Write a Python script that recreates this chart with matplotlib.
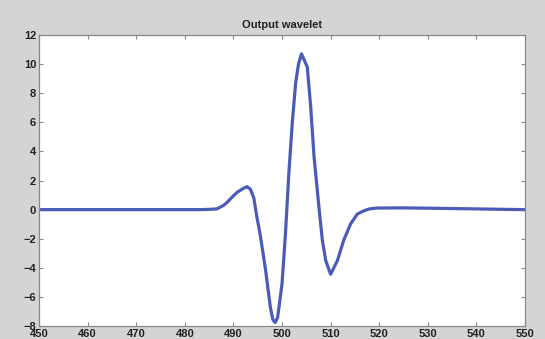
import matplotlib
matplotlib.use("Agg")
import matplotlib.pyplot as plt

# samples (time, amplitude)
time = [450, 483, 485, 486.6, 488, 488.7, 490, 490.8, 492, 492.8, 493.5,
        494.2, 494.8, 495.5, 496.6, 497.6, 498.1, 498.6, 499.1, 500.0, 500.7,
        501.4, 502.1, 502.8, 503.4, 504.0, 505.2, 505.9, 506.6, 507.6, 508.3,
        509.0, 510.0, 511.4, 512.7, 514.1, 515.5, 516.9, 518, 519.6, 525,
        530, 540, 550]
amplitude = [0, 0, 0.02, 0.05, 0.3, 0.5, 0.95, 1.2, 1.45, 1.58, 1.4,
             0.8, -0.45, -1.7, -4.1, -6.7, -7.54, -7.75, -7.4, -5.1, -1.7,
             2.46, 5.9, 8.7, 10.0, 10.7, 9.8, 7.06, 3.6, 0.16, -2.1,
             -3.5, -4.44, -3.5, -2.1, -0.99, -0.3, -0.07, 0.05, 0.11, 0.12,
             0.1, 0.05, 0.0]

xticks = list(range(450, 551, 10))
yticks = list(range(-8, 13, 2))

plt.rcParams["font.family"] = ["Liberation Sans", "DejaVu Sans"]

fig = plt.figure(figsize=(5.45, 3.39), dpi=100, facecolor="#d4d4d4")
ax = fig.add_axes([0.0716, 0.038, 0.8917, 0.859])
ax.plot(time, amplitude, color="#4a5cb8", linewidth=2.3, solid_joinstyle="round")

ax.set_xlim(450, 550)
ax.set_ylim(-8, 12)
ax.set_xticks(xticks)
ax.set_yticks(yticks)
ax.tick_params(direction="in", length=3, width=0.8, color="#888888",
               top=True, right=True, labelsize=8, pad=2, labelcolor="#222222")
for lab in ax.get_xticklabels() + ax.get_yticklabels():
    lab.set_fontweight("bold")
for sp in ax.spines.values():
    sp.set_color("#888888")
    sp.set_linewidth(0.9)

ax.set_title("Output wavelet", fontsize=8, fontweight="bold", color="#222222", pad=5)

plt.savefig("out.png", dpi=100, facecolor=fig.get_facecolor())
plt.close()
